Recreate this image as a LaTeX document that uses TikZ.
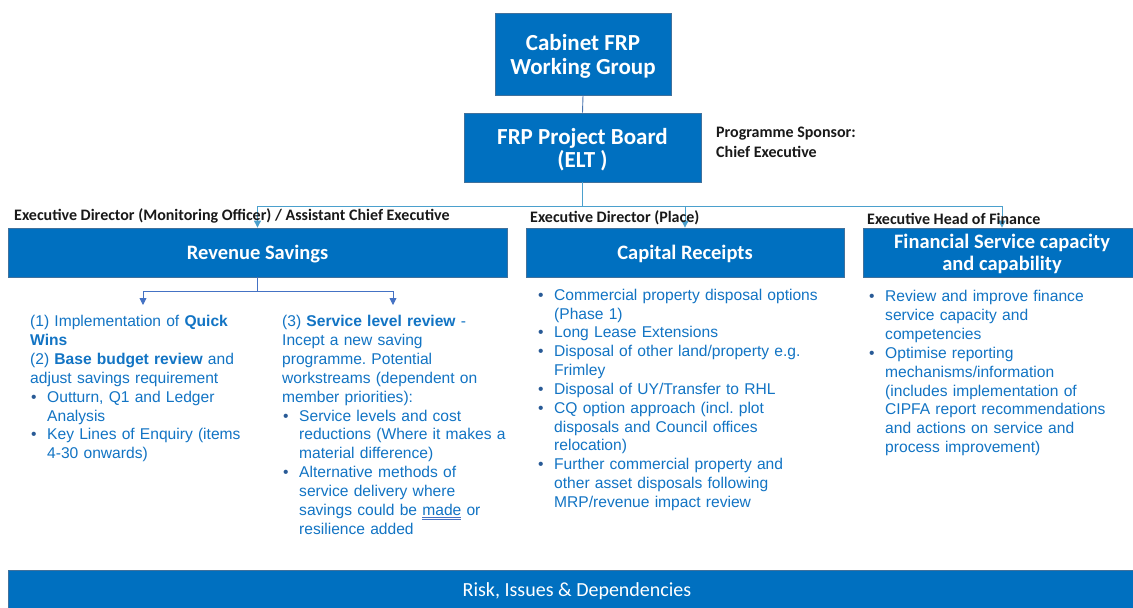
\documentclass[tikz,border=0pt]{standalone}
\usepackage{fontspec}
\setmainfont{Liberation Sans}
\newfontfamily\carlito{Carlito}
\usetikzlibrary{arrows.meta}
\usepackage{xcolor}
\frenchspacing

\definecolor{boxblue}{RGB}{0,112,192}
\definecolor{boxedge}{RGB}{65,113,156}
\definecolor{textblue}{RGB}{18,116,196}
\definecolor{dotblue}{RGB}{40,90,150}
\definecolor{rolegray}{RGB}{25,25,25}
\definecolor{boardlink}{RGB}{74,118,176}
\definecolor{toplink}{RGB}{75,160,205}
\definecolor{sublink}{RGB}{68,114,196}

\newcommand\itembul{\makebox[17pt][l]{\hspace*{1pt}{\color{dotblue}\textbullet}}}
\newcommand\contind{\hspace*{17pt}}

\begin{document}
\begin{tikzpicture}[x=1pt,y=-1pt,
    box/.style={draw=boxedge,line width=0.8pt,fill=boxblue,text=white,align=center,inner sep=0pt},
    title/.style={font=\carlito\bfseries\fontsize{20.5}{22}\selectfont},
    role/.style={anchor=west,inner sep=0pt,text=rolegray,font=\carlito\bfseries\fontsize{16}{19.5}\selectfont},
    body/.style={anchor=north west,inner sep=0pt,text=textblue,align=left,font=\fontsize{15.6}{18.85}\selectfont},
    topline/.style={draw=toplink,line width=0.9pt},
    subline/.style={draw=sublink,line width=0.9pt},
    arrowdown/.style={-{Triangle[width=7pt,length=7pt]}}]
    \useasboundingbox (0,0) rectangle (1133,608);
    \fill[white] (0,0) rectangle (1133,608);
    % Governance boxes
    \node[box,minimum width=176pt,minimum height=82pt,font=\carlito\bfseries\fontsize{23}{24}\selectfont]
        (cabinet) at (583,54) {\rule{0pt}{20pt}Cabinet FRP\\Working Group};
    \node[box,minimum width=237pt,minimum height=69pt,font=\carlito\bfseries\fontsize{23}{23}\selectfont]
        (board) at (582.5,147.5) {\rule{0pt}{20pt}FRP Project Board\\(ELT )};
    \node[role,align=left] (sponsor) at (716,142.5) {Programme Sponsor:\\Chief Executive};
    % Workstream boxes
    \node[box,title,minimum width=499pt,minimum height=49pt,text height=18pt,text depth=4pt]
        (revenue) at (257.5,252.5) {Revenue Savings};
    \node[box,title,minimum width=318pt,minimum height=49pt,text height=18pt,text depth=4pt]
        (capital) at (685,252.5) {Capital Receipts};
    \node[box,title,minimum width=278pt,minimum height=49pt] (finance) at (1002,252.5)
        {\rule{0pt}{18pt}Financial Service capacity\\and capability};
    % Connectors from the board
    \coordinate (hub) at (582.5,206);
    \draw[draw=boardlink,line width=0.9pt] (cabinet.south) -- (board.north);
    \draw[topline] (board.south) -- (hub);
    \draw[topline,arrowdown] (hub) -| (revenue.north);
    \draw[topline,arrowdown] (hub) -| (capital.north);
    \draw[topline,arrowdown] (hub) -| (finance.north);
    % Leads
    \node[role] (leadrev) at (14,216) {Executive Director (Monitoring Officer) / Assistant Chief Executive};
    \node[role] (leadcap) at (530,218) {Executive Director (Place)};
    \node[role] (leadfin) at (867,219) {Executive Head of Finance};
    % Split under revenue savings
    \coordinate (fork) at (257.5,291.7);
    \coordinate (quickin) at (143,305);
    \coordinate (levelin) at (393,305);
    \draw[subline] (revenue.south) -- (fork);
    \draw[subline,arrowdown] (fork) -| (quickin);
    \draw[subline,arrowdown] (fork) -| (levelin);
    % Column texts
    \node[body,text width=250pt] (quickwins) at (30,313.5) {\strut(1) Implementation of \textbf{Quick}\\
        \textbf{Wins}\\
        (2) \textbf{Base budget review} and\\
        adjust savings requirement\\
        \itembul Outturn, Q1 and Ledger\\
        \contind Analysis\\
        \itembul Key Lines of Enquiry (items\\
        \contind 4-30 onwards)};
    \node[body,text width=250pt] (levelreview) at (282,313.5) {\strut(3) \textbf{Service level review} -\\
        Incept a new saving\\
        programme. Potential\\
        workstreams (dependent on\\
        member priorities):\\
        \itembul Service levels and cost\\
        \contind reductions (Where it makes a\\
        \contind material difference)\\
        \itembul Alternative methods of\\
        \contind service delivery where\\
        \contind savings could be {\color{sublink}\underline{\underline{\color{textblue}made}}} or\\
        \contind resilience added};
    \node[body,text width=300pt] (disposals) at (537,286.8) {\strut\itembul Commercial property disposal options\\
        \contind (Phase 1)\\
        \itembul Long Lease Extensions\\
        \itembul Disposal of other land/property e.g.\\
        \contind Frimley\\
        \itembul Disposal of UY/Transfer to RHL\\
        \itembul CQ option approach (incl. plot\\
        \contind disposals and Council offices\\
        \contind relocation)\\
        \itembul Further commercial property and\\
        \contind other asset disposals following\\
        \contind MRP/revenue impact review};
    \node[body,text width=265pt] (capacity) at (868,288.5) {\strut\itembul Review and improve finance\\
        \contind service capacity and\\
        \contind competencies\\
        \itembul Optimise reporting\\
        \contind mechanisms/information\\
        \contind (includes implementation of\\
        \contind CIPFA report recommendations\\
        \contind and actions on service and\\
        \contind process improvement)};
    % Bottom bar
    \node[box,minimum width=1138pt,minimum height=42pt,font=\carlito\fontsize{20}{22}\selectfont,
        text height=15pt,text depth=4pt] (risk) at (577,591) {Risk, Issues \& Dependencies};
\end{tikzpicture}
\end{document}
